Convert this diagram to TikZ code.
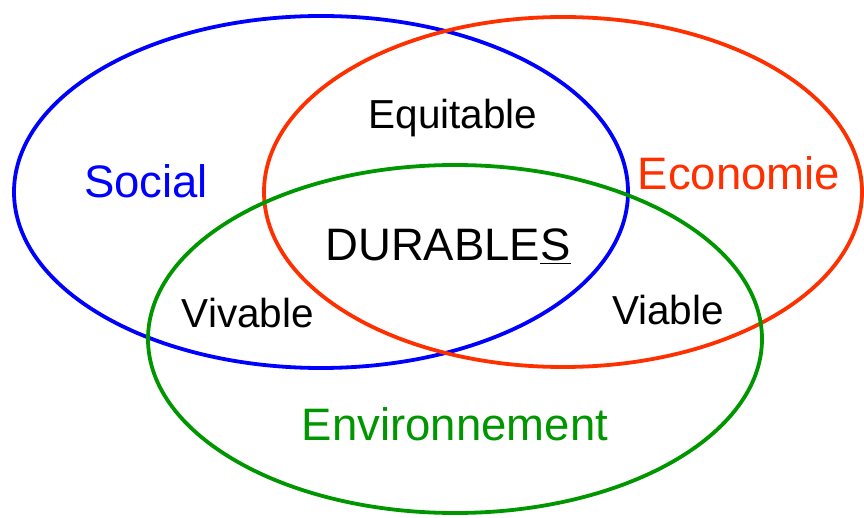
\documentclass[tikz,border=0pt]{standalone}
\usepackage{fontspec}
\setmainfont{Liberation Sans}
\definecolor{cblue}{RGB}{0,0,255}
\definecolor{cred}{RGB}{255,48,0}
\definecolor{cgreen}{RGB}{0,150,0}
\begin{document}
\begin{tikzpicture}[x=1pt,y=1pt,
  ring/.style={line width=3.8pt},
  biglbl/.style={anchor=base,inner sep=0pt,font=\fontsize{45.5}{50}\selectfont},
  smalllbl/.style={anchor=base,inner sep=0pt,font=\fontsize{40.5}{45}\selectfont}]
\useasboundingbox (0,0) rectangle (864,-518);
\draw[ring,cblue] (321,-192) ellipse [x radius=307, y radius=176];
\draw[ring,cred] (563,-192) ellipse [x radius=299, y radius=175];
\draw[ring,cgreen] (455,-339) ellipse [x radius=307, y radius=174];
\node[biglbl,text=cblue] (social) at (146,-198) {Social};
\node[biglbl,text=cred] (eco) at (739,-190) {Economie};
\node[biglbl,text=cgreen] (env) at (455,-440) {Environnement};
\node[smalllbl] (equi) at (453,-129) {Equitable};
\node[smalllbl] (viv) at (248,-327) {Vivable};
\node[smalllbl] (via) at (668,-325) {Viable};
\node[biglbl] (dur) at (448,-261) {DURABLE\underline{S}};
\end{tikzpicture}
\end{document}
